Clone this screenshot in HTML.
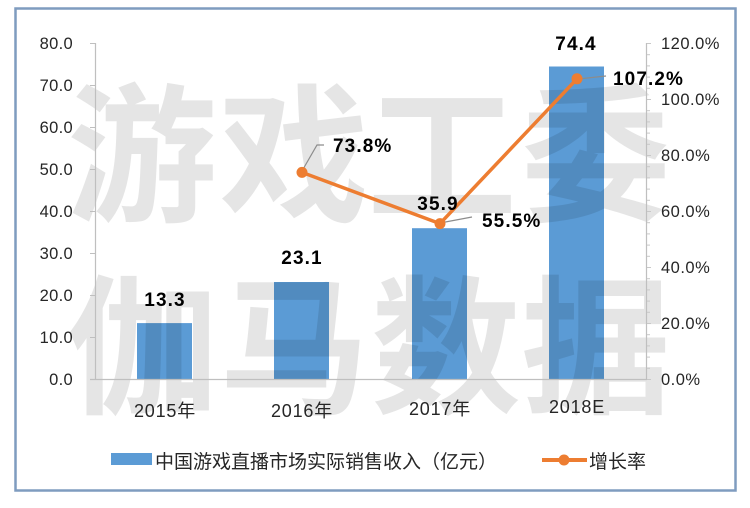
<!DOCTYPE html>
<html><head><meta charset="utf-8"><style>
html,body{margin:0;padding:0;background:#fff;}
svg{display:block;}
text{font-family:"Liberation Sans","Noto Sans CJK SC",sans-serif;}
</style></head><body>
<svg width="750" height="508" viewBox="0 0 750 508" xmlns="http://www.w3.org/2000/svg">
<rect x="0" y="0" width="750" height="508" fill="#fff"/>
<rect x="15.5" y="8.5" width="720" height="482" fill="#fff" stroke="#7f9cbf" stroke-width="2.5"/>

<!-- bars -->
<g fill="#5b9bd5">
<rect x="137" y="323.1" width="55" height="55.9"/>
<rect x="274" y="282" width="55" height="97"/>
<rect x="412" y="228.2" width="55" height="150.8"/>
<rect x="549" y="66.5" width="55" height="312.5"/>
</g>

<!-- watermark -->
<g fill="#000" fill-opacity="0.1" font-size="150" font-weight="700" text-anchor="middle" style="font-family:'Noto Sans CJK SC','WenQuanYi Zen Hei',sans-serif">
<text x="142" y="210">游</text>
<text x="294" y="210">戏</text>
<text x="442" y="210">工</text>
<text x="596" y="210">委</text>
<text x="142" y="402">伽</text>
<text x="294" y="402">马</text>
<text x="446" y="402">数</text>
<text x="596" y="402">据</text>
</g>

<!-- axes -->
<g stroke="#bfbfbf" stroke-width="1.2" fill="none">
<line x1="95.5" y1="43" x2="95.5" y2="379"/>
<line x1="90" y1="379.5" x2="647" y2="379.5"/>
<line x1="646.5" y1="43" x2="646.5" y2="379"/>
</g>
<g stroke="#bfbfbf" stroke-width="1">
<line x1="90" y1="43.5" x2="95" y2="43.5"/>
<line x1="90" y1="85.5" x2="95" y2="85.5"/>
<line x1="90" y1="127.5" x2="95" y2="127.5"/>
<line x1="90" y1="169.5" x2="95" y2="169.5"/>
<line x1="90" y1="211.5" x2="95" y2="211.5"/>
<line x1="90" y1="253.5" x2="95" y2="253.5"/>
<line x1="90" y1="295.5" x2="95" y2="295.5"/>
<line x1="90" y1="337.5" x2="95" y2="337.5"/>
</g>
<g stroke="#c8c8c8" stroke-width="1" id="minor">
<line x1="647" y1="43.5" x2="651" y2="43.5"/><line x1="647" y1="54.7" x2="650" y2="54.7"/><line x1="647" y1="65.9" x2="650" y2="65.9"/><line x1="647" y1="77.1" x2="650" y2="77.1"/><line x1="647" y1="88.3" x2="650" y2="88.3"/>
<line x1="647" y1="99.5" x2="651" y2="99.5"/><line x1="647" y1="110.7" x2="650" y2="110.7"/><line x1="647" y1="121.9" x2="650" y2="121.9"/><line x1="647" y1="133.1" x2="650" y2="133.1"/><line x1="647" y1="144.3" x2="650" y2="144.3"/>
<line x1="647" y1="155.5" x2="651" y2="155.5"/><line x1="647" y1="166.7" x2="650" y2="166.7"/><line x1="647" y1="177.9" x2="650" y2="177.9"/><line x1="647" y1="189.1" x2="650" y2="189.1"/><line x1="647" y1="200.3" x2="650" y2="200.3"/>
<line x1="647" y1="211.5" x2="651" y2="211.5"/><line x1="647" y1="222.7" x2="650" y2="222.7"/><line x1="647" y1="233.9" x2="650" y2="233.9"/><line x1="647" y1="245.1" x2="650" y2="245.1"/><line x1="647" y1="256.3" x2="650" y2="256.3"/>
<line x1="647" y1="267.5" x2="651" y2="267.5"/><line x1="647" y1="278.7" x2="650" y2="278.7"/><line x1="647" y1="289.9" x2="650" y2="289.9"/><line x1="647" y1="301.1" x2="650" y2="301.1"/><line x1="647" y1="312.3" x2="650" y2="312.3"/>
<line x1="647" y1="323.5" x2="651" y2="323.5"/><line x1="647" y1="334.7" x2="650" y2="334.7"/><line x1="647" y1="345.9" x2="650" y2="345.9"/><line x1="647" y1="357.1" x2="650" y2="357.1"/><line x1="647" y1="368.3" x2="650" y2="368.3"/>
<line x1="647" y1="379.5" x2="651" y2="379.5"/>
</g>

<!-- left labels -->
<g font-size="16.5" fill="#262626" text-anchor="end" letter-spacing="0.3">
<text x="73" y="49">80.0</text>
<text x="73" y="91">70.0</text>
<text x="73" y="133">60.0</text>
<text x="73" y="175">50.0</text>
<text x="73" y="217">40.0</text>
<text x="73" y="259">30.0</text>
<text x="73" y="301">20.0</text>
<text x="73" y="343">10.0</text>
<text x="73" y="385">0.0</text>
</g>
<!-- right labels -->
<g font-size="16.5" fill="#262626" letter-spacing="0.5">
<text x="661" y="49">120.0%</text>
<text x="661" y="105">100.0%</text>
<text x="661" y="161">80.0%</text>
<text x="661" y="217">60.0%</text>
<text x="661" y="273">40.0%</text>
<text x="661" y="329">20.0%</text>
<text x="661" y="385">0.0%</text>
</g>

<!-- x labels -->
<g font-size="18" fill="#262626" text-anchor="middle" letter-spacing="0.8">
<text x="165" y="417">2015年</text>
<text x="302" y="417">2016年</text>
<text x="440" y="415">2017年</text>
<text x="577" y="413">2018E</text>
</g>

<!-- leader lines -->
<g stroke="#8c8c8c" stroke-width="1.2" fill="none">
<polyline points="302,171 317,145 324,145"/>
<polyline points="440,223 472,217"/>
<polyline points="578,79 606,76"/>
</g>

<!-- growth line -->
<polyline points="302,172.4 440,223.6 577,78.8" fill="none" stroke="#ed7d31" stroke-width="3.5" stroke-linejoin="round"/>
<g fill="#ed7d31">
<circle cx="302" cy="172.4" r="5.5"/>
<circle cx="440" cy="223.6" r="5.5"/>
<circle cx="577" cy="78.8" r="5.5"/>
</g>

<!-- data labels -->
<g font-size="19" font-weight="700" fill="#000" letter-spacing="1.1">
<text x="165" y="306" text-anchor="middle">13.3</text>
<text x="302" y="264" text-anchor="middle">23.1</text>
<text x="438" y="210" text-anchor="middle">35.9</text>
<text x="576" y="50" text-anchor="middle">74.4</text>
<text x="333" y="152">73.8%</text>
<text x="482" y="227">55.5%</text>
<text x="613" y="85">107.2%</text>
</g>

<!-- legend -->
<rect x="111" y="453" width="41" height="12" fill="#5b9bd5"/>
<text x="155" y="468" font-size="19" fill="#262626">中国游戏直播市场实际销售收入（亿元）</text>
<line x1="542" y1="460" x2="587" y2="460" stroke="#ed7d31" stroke-width="4"/>
<circle cx="564" cy="460" r="5.5" fill="#ed7d31"/>
<text x="589" y="468" font-size="19" fill="#262626">增长率</text>
</svg>
</body></html>
